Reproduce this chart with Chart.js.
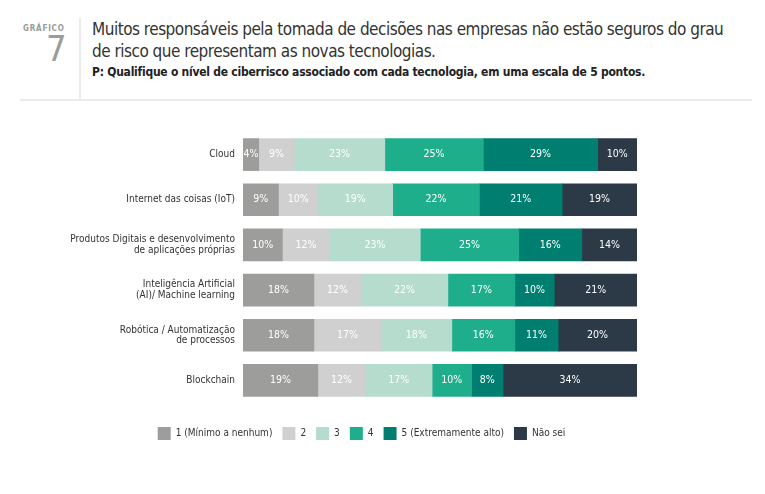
<!DOCTYPE html>
<html>
<head>
<meta charset="utf-8">
<script src="https://cdn.jsdelivr.net/npm/chart.js@4.4.1/dist/chart.umd.min.js"></script>
<style>
    body { margin: 0; background: #fff; width: 765px; height: 494px; position: relative; overflow: hidden;
           font-family: "DejaVu Sans Condensed", "Liberation Sans", sans-serif; }
    .kicker { position: absolute; left: 23px; top: 24px; font-size: 8px; font-weight: bold; color: #9a9a9a; letter-spacing: 0.8px; }
    .num { position: absolute; left: 46px; top: 31px; font-size: 36px; color: #9b9b9b; line-height: 1; }
    .vline { position: absolute; left: 79px; top: 18px; width: 2px; height: 83px; background: #ebebeb; }
    .hline { position: absolute; left: 20px; top: 99px; width: 732px; height: 2px; background: #ebebeb; }
    .title { position: absolute; left: 92px; top: 18px; font-size: 17px; line-height: 22px; color: #333;
             letter-spacing: -0.5px; white-space: nowrap; }
    .sub { position: absolute; left: 92px; top: 65px; font-size: 12px; font-weight: bold; color: #222;
           letter-spacing: -0.25px; white-space: nowrap; }
    #wrap { position: absolute; left: 0; top: 110px; width: 765px; height: 384px; }
</style>
</head>
<body>
<div class="kicker">GRÁFICO</div>
<div class="num">7</div>
<div class="vline"></div>
<div class="hline"></div>
<div class="title">Muitos responsáveis pela tomada de decisões nas empresas não estão seguros do grau<br>de risco que representam as novas tecnologias.</div>
<div class="sub">P: Qualifique o nível de ciberrisco associado com cada tecnologia, em uma escala de 5 pontos.</div>
<div id="wrap"><canvas id="chart"></canvas></div>
<script>
// Data
const categories = [
    'Cloud',
    'Internet das coisas (IoT)',
    ['Produtos Digitais e desenvolvimento', 'de aplicações próprias'],
    ['Inteligência Artificial', '(AI)/ Machine learning'],
    ['Robótica / Automatização', 'de processos'],
    'Blockchain'
];
const seriesNames = ['1 (Mínimo a nenhum)', '2', '3', '4', '5 (Extremamente alto)', 'Não sei'];
const level1 = [4, 9, 10, 18, 18, 19];
const level2 = [9, 10, 12, 12, 17, 12];
const level3 = [23, 19, 23, 22, 18, 17];
const level4 = [25, 22, 25, 17, 16, 10];
const level5 = [29, 21, 16, 10, 11, 8];
const naoSei = [10, 19, 14, 21, 20, 34];

const colors = ['#9d9d9c', '#d0d0d0', '#b5dccd', '#1fae8c', '#007f71', '#2c3a47'];
const FONT = '"DejaVu Sans Condensed", "Liberation Sans", sans-serif';

// Draw the percentages inside each segment
const segmentLabels = {
    id: 'segmentLabels',
    afterDatasetsDraw(chart) {
        const ctx = chart.ctx;
        ctx.save();
        ctx.font = '10.5px ' + FONT;
        ctx.fillStyle = '#ffffff';
        ctx.textAlign = 'center';
        ctx.textBaseline = 'middle';
        chart.data.datasets.forEach((ds, i) => {
            const meta = chart.getDatasetMeta(i);
            meta.data.forEach((bar, j) => {
                const cx = (bar.x + bar.base) / 2;
                ctx.fillText(ds.data[j] + '%', cx, bar.y);
            });
        });
        ctx.restore();
    }
};

const values = [level1, level2, level3, level4, level5, naoSei];

new Chart(document.getElementById('chart'), {
    type: 'bar',
    data: {
        labels: categories,
        datasets: values.map((data, i) => ({
            label: seriesNames[i],
            data: data,
            backgroundColor: colors[i],
            borderWidth: 0,
            barThickness: 32
        }))
    },
    options: {
        indexAxis: 'y',
        responsive: true,
        maintainAspectRatio: false,
        animation: false,
        layout: { padding: { left: 0, right: 42, top: 22, bottom: 44 } },
        plugins: {
            tooltip: { enabled: false },
            legend: {
                position: 'bottom',
                labels: {
                    boxWidth: 13,
                    boxHeight: 13,
                    padding: 10,
                    color: '#333',
                    font: { family: FONT, size: 10 }
                }
            }
        },
        scales: {
            x: {
                stacked: true,
                min: 0,
                max: 100,
                grid: { display: false },
                border: { display: false },
                ticks: { display: false },
                afterFit(scale) { scale.height = 14; }
            },
            y: {
                stacked: true,
                grid: { display: false },
                border: { display: false },
                ticks: {
                    color: '#333',
                    padding: 0,
                    font: { family: FONT, size: 10, lineHeight: 1.05 }
                },
                afterFit(scale) { scale.width = 243; }
            },
            // empty spacer on the right so the bars end where the original ones do
            spacer: {
                type: 'linear',
                axis: 'y',
                position: 'right',
                grid: { display: false },
                border: { display: false },
                ticks: { display: false },
                afterFit(scale) { scale.width = 86; }
            }
        }
    },
    plugins: [segmentLabels]
});
</script>
</body>
</html>
